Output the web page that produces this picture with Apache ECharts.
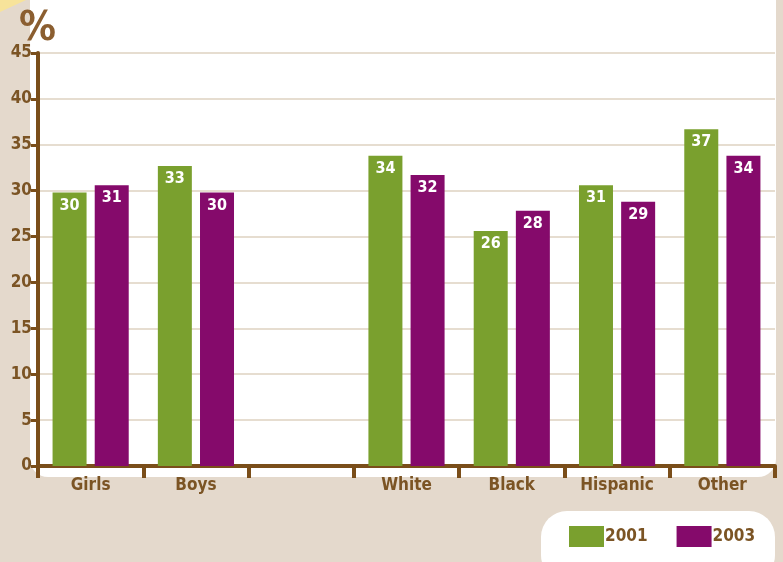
<!DOCTYPE html>
<html>
<head>
	<meta charset="utf-8">
	<title>chart</title>
	<style>
		body {
			margin: 0;
			padding: 0;
			background-color: #e4d9cc;
		}

		#main {
			width: 783px;
			height: 562px;
		}
	</style>
</head>
<body>
	<div id="main"></div>

	<script src="https://cdn.jsdelivr.net/npm/echarts@6/dist/echarts.min.js"></script>
	<script type="text/javascript">
		// data
		var categories = ['Girls', 'Boys', '', 'White', 'Black', 'Hispanic', 'Other'];
		var data2001 = [29.8, 32.7, null, 33.8, 25.6, 30.6, 36.7];
		var data2003 = [30.6, 29.8, null, 31.7, 27.8, 28.8, 33.8];
		var yTicks = [0, 5, 10, 15, 20, 25, 30, 35, 40, 45];

		var brown = '#7a4e1a';
		var textBrown = '#7b5424';
		var font = '"DejaVu Sans Condensed", sans-serif';

		var myChart = echarts.init(document.getElementById('main'));

		var barLabel = {
			show: true,
			position: 'insideTop',
			distance: 5,
			color: '#fff',
			fontFamily: font,
			fontWeight: 'bold',
			fontSize: 16,
			formatter: function (p) {
				return Math.round(p.value);
			}
		};

		myChart.setOption({
			backgroundColor: '#e4d9cc',
			animation: false,
			graphic: [
				// white panel behind the plot
				{
					type: 'rect',
					z: -10,
					shape: { x: 30, y: -20, width: 746, height: 497, r: [0, 0, 18, 18] },
					style: { fill: '#fff' }
				},
				// yellow corner
				{
					type: 'polygon',
					z: -10,
					shape: { points: [[0, 0], [26, 0], [0, 12]] },
					style: { fill: '#f7e39a' }
				},
				// legend box
				{
					type: 'rect',
					z: -10,
					shape: { x: 541, y: 511, width: 234, height: 70, r: 26 },
					style: { fill: '#fff' }
				},
				{
					type: 'text',
					left: 19,
					top: 9,
					style: {
						text: '%',
						fill: '#8b5e30',
						font: 'bold 41px "DejaVu Sans Condensed"'
					}
				}
			],
			legend: {
				left: 569,
				top: 526,
				padding: 0,
				itemWidth: 35,
				itemHeight: 21,
				itemGap: 29,
				icon: 'rect',
				textStyle: {
					color: textBrown,
					fontFamily: font,
					fontWeight: 'bold',
					fontSize: 17,
					padding: [0, 0, 0, -4]
				},
				data: ['2001', '2003']
			},
			grid: {
				left: 38,
				right: 8,
				top: 53,
				bottom: 96,
				containLabel: false
			},
			xAxis: {
				type: 'category',
				data: categories,
				axisLine: {
					lineStyle: { color: brown, width: 4 }
				},
				axisTick: {
					show: true,
					interval: 0,
					length: 12,
					lineStyle: { color: brown, width: 4 }
				},
				axisLabel: {
					interval: 0,
					color: textBrown,
					fontFamily: font,
					fontWeight: 'bold',
					fontSize: 17,
					margin: 11
				}
			},
			yAxis: {
				type: 'value',
				min: 0,
				max: 45,
				interval: 5,
				axisLine: {
					show: true,
					lineStyle: { color: brown, width: 4 }
				},
				axisTick: {
					show: true,
					length: 7,
					lineStyle: { color: brown, width: 3 }
				},
				axisLabel: {
					color: textBrown,
					fontFamily: font,
					fontWeight: 'bold',
					fontSize: 17,
					margin: 6,
					formatter: function (v) {
						return yTicks.indexOf(v) >= 0 ? v : '';
					}
				},
				splitLine: {
					lineStyle: { color: '#e6ddd0', width: 2 }
				}
			},
			series: [
				{
					name: '2001',
					type: 'bar',
					data: data2001,
					barWidth: 34,
					barGap: '24%',
					itemStyle: { color: '#7aa02e' },
					label: barLabel
				},
				{
					name: '2003',
					type: 'bar',
					data: data2003,
					barWidth: 34,
					itemStyle: { color: '#850a6b' },
					label: barLabel
				}
			]
		});
	</script>
</body>
</html>
